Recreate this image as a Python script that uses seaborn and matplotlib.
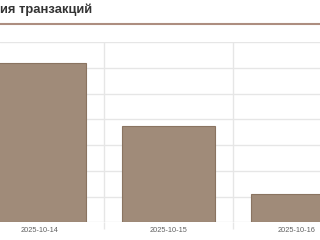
import matplotlib
matplotlib.use("Agg")
import matplotlib.pyplot as plt
import seaborn as sns
import pandas as pd

dates = ["2025-10-14", "2025-10-15", "2025-10-16"]
values = [620, 375, 110]
y_ticks = [0, 100, 200, 300, 400, 500, 600, 700]
title_visible = "ия транзакций"

sns.set_theme(style="white")
plt.rcParams['font.family'] = ['Liberation Sans', 'DejaVu Sans']

df = pd.DataFrame({"date": dates, "value": values})

fig = plt.figure(figsize=(3.2, 2.4), dpi=100)
ax = fig.add_axes([0, 0.07375, 1, 0.7496])

sns.barplot(data=df, x="date", y="value", ax=ax, color="#A08B79",
            saturation=1, width=0.72, edgecolor="#8A7461", linewidth=0.8, zorder=3)

ax.set_yticks(y_ticks)
ax.set_xticks([0, 1, 2])
ax.set_xticks([-0.5, 0.5, 1.5, 2.5], minor=True)
ax.set_xlim(-0.311, 2.179)
ax.set_ylim(0, 700)
ax.grid(False)
ax.yaxis.grid(True, color="#E6E6E6", linewidth=1, zorder=0)
ax.xaxis.grid(True, which="minor", color="#E6E6E6", linewidth=1, zorder=0)
ax.tick_params(axis="x", which="major", length=0, pad=3.5, labelsize=5.3, labelcolor="#606060")
ax.tick_params(axis="x", which="minor", length=5, color="#E6E6E6", width=1, direction="out", bottom=True)
ax.tick_params(axis="y", length=0, labelleft=False)
ax.set_xlabel("")
ax.set_ylabel("")
for s in ax.spines.values():
    s.set_visible(False)

fig.text(0.0, 1 - 10/240, title_visible, ha="left", va="center", fontsize=9.4,
         fontweight="bold", color="#333333")
fig.add_artist(plt.Line2D([0, 1], [1 - 24/240, 1 - 24/240], color="#AD8E80", linewidth=1.5))

fig.savefig("out.png", dpi=100)
